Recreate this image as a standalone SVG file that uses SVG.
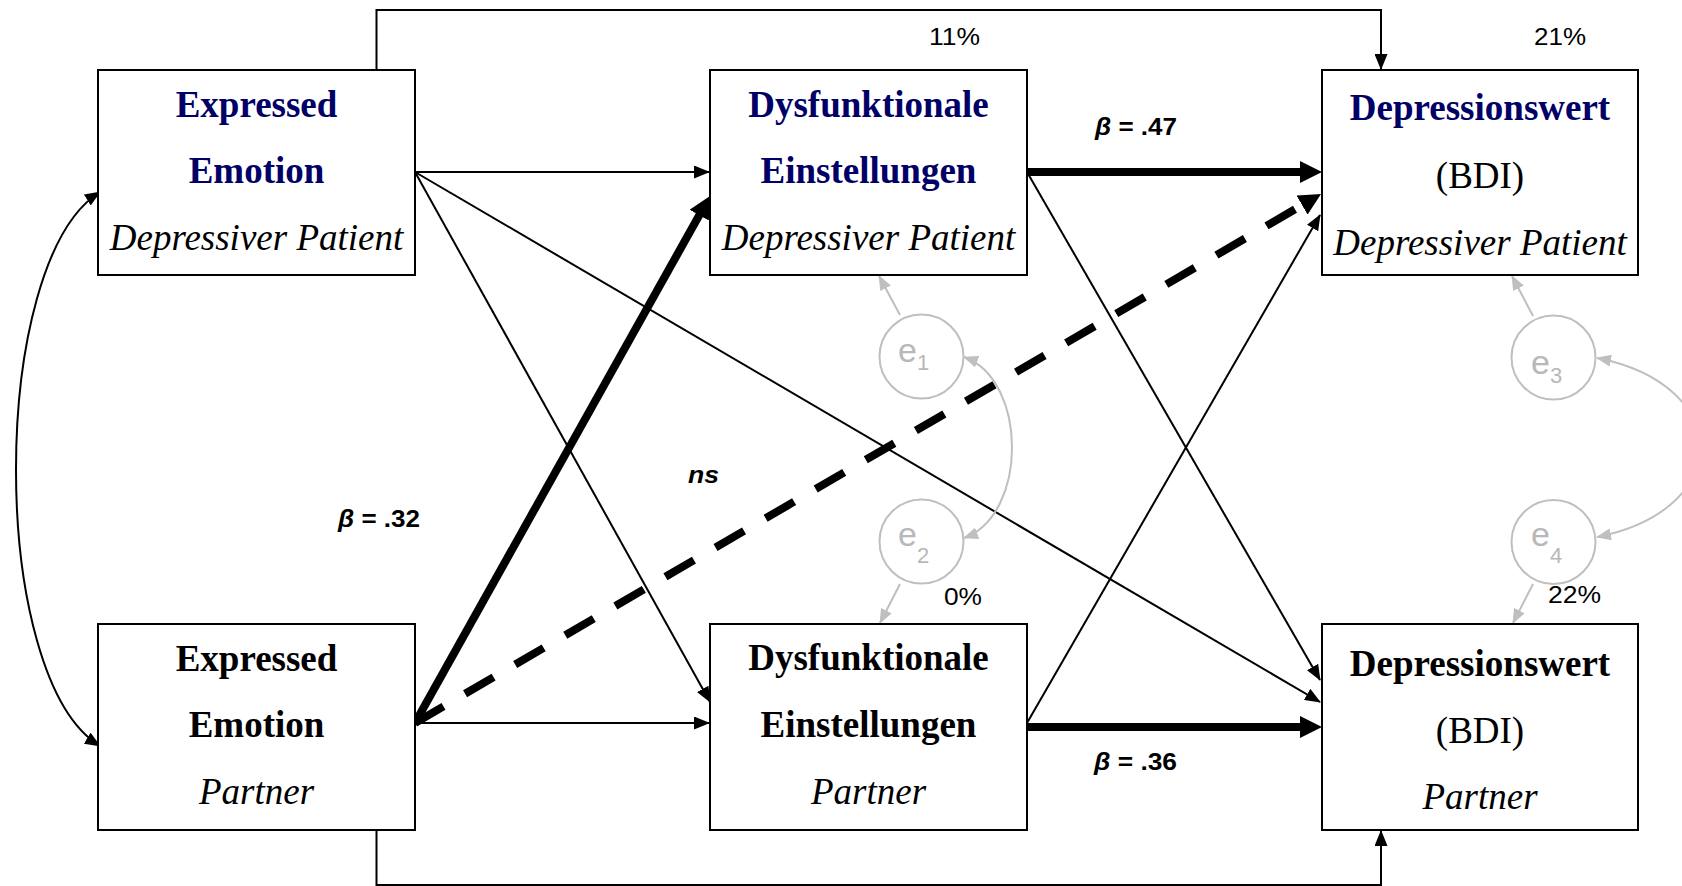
<svg xmlns="http://www.w3.org/2000/svg" width="1682" height="886" viewBox="0 0 1682 886">
<style>
.box{fill:#fff;stroke:#000;stroke-width:2}
.t{font-family:"Liberation Serif","Times New Roman",serif;font-size:37px;text-anchor:middle;fill:#000}
.b{font-weight:bold}
.navy{fill:#000066}
.i{font-style:italic}
.s{font-family:"Liberation Sans",Arial,sans-serif;font-size:24px;fill:#000}
.bl{font-family:"Liberation Sans",Arial,sans-serif;font-size:24px;font-weight:bold;fill:#000}
.thin{fill:none;stroke:#000;stroke-width:2}
.thick{fill:none;stroke:#000;stroke-width:8}
.dash{fill:none;stroke:#000;stroke-width:8;stroke-dasharray:33 25}
.gray{fill:none;stroke:#bfbfbf;stroke-width:2}
.ec{fill:#fff;stroke:#bfbfbf;stroke-width:2}
.et{font-family:"Liberation Sans",Arial,sans-serif;font-size:34px;fill:#b8b8b8}
</style>
<defs>
<marker id="aThin" markerUnits="userSpaceOnUse" markerWidth="16" markerHeight="13" refX="15" refY="6.5" orient="auto-start-reverse"><path d="M0,0 L16,6.5 L0,13 z" fill="#000"/></marker>
<marker id="aThick" markerUnits="userSpaceOnUse" markerWidth="22" markerHeight="22" refX="4" refY="11" orient="auto"><path d="M0,0 L22,11 L0,22 z" fill="#000"/></marker>
<marker id="aGray" markerUnits="userSpaceOnUse" markerWidth="15" markerHeight="12" refX="14" refY="6" orient="auto-start-reverse"><path d="M0,0 L15,6 L0,12 z" fill="#bfbfbf"/></marker>
</defs>

<g id="connectors">
<path class="thin" d="M376.5 70 V10 H1381 V69" marker-end="url(#aThin)"/>
<path class="thin" d="M376.5 826 V885 H1381 V831" marker-end="url(#aThin)"/>
<path class="thin" d="M100 192 C -12 262, -12 678, 100 746" marker-start="url(#aThin)" marker-end="url(#aThin)"/>
<line class="thin" x1="415" y1="172" x2="709" y2="172" marker-end="url(#aThin)"/>
<line class="thin" x1="415" y1="723" x2="709" y2="723" marker-end="url(#aThin)"/>
<line class="thin" x1="415" y1="172" x2="710" y2="702" marker-end="url(#aThin)"/>
<line class="thin" x1="415" y1="172" x2="1320" y2="702" marker-end="url(#aThin)"/>
<line class="thin" x1="1027" y1="172" x2="1320" y2="680" marker-end="url(#aThin)"/>
<line class="thin" x1="1027" y1="723" x2="1320" y2="215" marker-end="url(#aThin)"/>
<line class="thick" x1="1027" y1="172" x2="1304" y2="172" marker-end="url(#aThick)"/>
<line class="thick" x1="1027" y1="727" x2="1304" y2="727" marker-end="url(#aThick)"/>
<line class="thick" x1="415" y1="723" x2="701.2" y2="211.7" marker-end="url(#aThick)"/>
<line class="dash" x1="415" y1="723" x2="1305.5" y2="203.1" marker-end="url(#aThick)"/>
<line class="gray" x1="900" y1="315" x2="879" y2="276" marker-end="url(#aGray)"/>
<line class="gray" x1="900" y1="584" x2="880" y2="623" marker-end="url(#aGray)"/>
<line class="gray" x1="1533" y1="316" x2="1512" y2="276" marker-end="url(#aGray)"/>
<line class="gray" x1="1533" y1="584" x2="1513" y2="623" marker-end="url(#aGray)"/>
<path class="gray" d="M964 357 C 1028 380, 1028 515, 964 538" marker-start="url(#aGray)" marker-end="url(#aGray)"/>
<path class="gray" d="M1597 358 C 1734 385, 1734 510, 1597 537" marker-start="url(#aGray)" marker-end="url(#aGray)"/>
</g>

<g id="labels">
<text class="s" x="929" y="45" textLength="51" lengthAdjust="spacingAndGlyphs">11%</text>
<text class="s" x="1534" y="45" textLength="52" lengthAdjust="spacingAndGlyphs">21%</text>
<text class="s" x="944" y="605" textLength="38" lengthAdjust="spacingAndGlyphs">0%</text>
<text class="s" x="1548" y="603" textLength="53" lengthAdjust="spacingAndGlyphs">22%</text>
<text class="bl" x="1095" y="135" textLength="82" lengthAdjust="spacingAndGlyphs"><tspan font-style="italic">β</tspan> = .47</text>
<text class="bl" x="1094" y="770" textLength="83" lengthAdjust="spacingAndGlyphs"><tspan font-style="italic">β</tspan> = .36</text>
<text class="bl" x="338" y="527" textLength="82" lengthAdjust="spacingAndGlyphs"><tspan font-style="italic">β</tspan> = .32</text>
<text class="bl" x="688" y="483" font-style="italic" textLength="31" lengthAdjust="spacingAndGlyphs">ns</text>
</g>

<g id="ee-patient">
<rect class="box" x="98" y="70" width="317" height="205"/>
<text class="t b navy" x="256.5" y="117">Expressed</text>
<text class="t b navy" x="256.5" y="183">Emotion</text>
<text class="t i" x="256.5" y="250">Depressiver Patient</text>
</g>
<g id="dys-patient">
<rect class="box" x="710" y="70" width="317" height="205"/>
<text class="t b navy" x="868.5" y="117">Dysfunktionale</text>
<text class="t b navy" x="868.5" y="183">Einstellungen</text>
<text class="t i" x="868.5" y="250">Depressiver Patient</text>
</g>
<g id="dep-patient">
<rect class="box" x="1322" y="70" width="316" height="205"/>
<text class="t b navy" x="1480" y="120">Depressionswert</text>
<text class="t" x="1480" y="188">(BDI)</text>
<text class="t i" x="1480" y="255">Depressiver Patient</text>
</g>
<g id="ee-partner">
<rect class="box" x="98" y="624" width="317" height="206"/>
<text class="t b" x="256.5" y="671">Expressed</text>
<text class="t b" x="256.5" y="737">Emotion</text>
<text class="t i" x="256.5" y="804">Partner</text>
</g>
<g id="dys-partner">
<rect class="box" x="710" y="624" width="317" height="206"/>
<text class="t b" x="868.5" y="670">Dysfunktionale</text>
<text class="t b" x="868.5" y="737">Einstellungen</text>
<text class="t i" x="868.5" y="804">Partner</text>
</g>
<g id="dep-partner">
<rect class="box" x="1322" y="624" width="316" height="206"/>
<text class="t b" x="1480" y="676">Depressionswert</text>
<text class="t" x="1480" y="743">(BDI)</text>
<text class="t i" x="1480" y="809">Partner</text>
</g>

<g id="e1"><circle class="ec" cx="921.5" cy="356.5" r="42"/><text class="et" x="898" y="362">e<tspan font-size="22" dy="8">1</tspan></text></g>
<g id="e2"><circle class="ec" cx="921.5" cy="541.5" r="42"/><text class="et" x="898" y="546">e<tspan font-size="22" dy="17">2</tspan></text></g>
<g id="e3"><circle class="ec" cx="1553.5" cy="357.5" r="42"/><text class="et" x="1531" y="374">e<tspan font-size="22" dy="9">3</tspan></text></g>
<g id="e4"><circle class="ec" cx="1553.5" cy="542" r="42"/><text class="et" x="1531" y="546">e<tspan font-size="22" dy="17">4</tspan></text></g>
</svg>
